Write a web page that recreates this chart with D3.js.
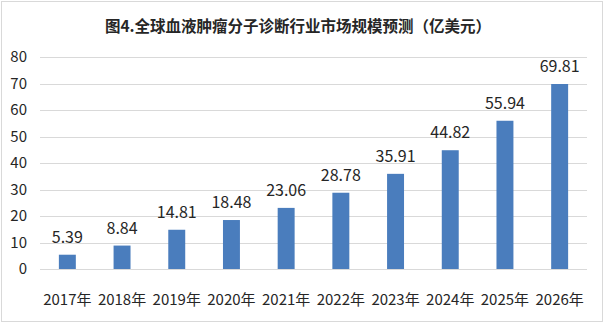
<!DOCTYPE html>
<html>
<head>
<meta charset="utf-8">
<script src="https://cdn.jsdelivr.net/npm/d3@7"></script>
<style>
  html, body { margin: 0; padding: 0; background: #fff; }
  svg { display: block; }
</style>
</head>
<body>
<svg id="chart" width="604" height="325"></svg>
<script>
const title = "图4.全球血液肿瘤分子诊断行业市场规模预测（亿美元）";
const years = ["2017年", "2018年", "2019年", "2020年", "2021年", "2022年", "2023年", "2024年", "2025年", "2026年"];
const values = [5.39, 8.84, 14.81, 18.48, 23.06, 28.78, 35.91, 44.82, 55.94, 69.81];
const yTicks = [0, 10, 20, 30, 40, 50, 60, 70, 80];

const W = 604, H = 325;
const margin = { top: 57, right: 17, bottom: 56, left: 40 };
const font = "'Microsoft YaHei', 'Noto Sans CJK SC', 'Noto Sans', sans-serif";

const svg = d3.select("#chart");

// outer frame
svg.append("rect")
  .attr("x", 1.5).attr("y", 1.5)
  .attr("width", W - 3).attr("height", H - 5)
  .attr("fill", "#fff").attr("stroke", "#d9d9d9").attr("stroke-width", 1);

const x = d3.scaleBand()
  .domain(years)
  .range([margin.left, W - margin.right])
  .paddingInner(0.69).paddingOuter(0.345);

const y = d3.scaleLinear()
  .domain([0, 80])
  .range([H - margin.bottom, margin.top]);

// gridlines
svg.append("g")
  .selectAll("line")
  .data(yTicks)
  .join("line")
  .attr("x1", margin.left).attr("x2", W - margin.right)
  .attr("y1", d => Math.round(y(d)) + 0.5).attr("y2", d => Math.round(y(d)) + 0.5)
  .attr("stroke", "#d9d9d9").attr("stroke-width", 1);

// y-axis labels
const yAxis = d3.axisLeft(y).tickValues(yTicks).tickSize(0).tickPadding(10);
svg.append("g")
  .attr("transform", `translate(${margin.left},0)`)
  .call(yAxis)
  .call(g => g.select(".domain").remove())
  .call(g => g.selectAll("text")
    .attr("font-family", font).attr("font-size", 15).attr("fill", "#262626")
    .attr("text-anchor", "end").attr("x", -13));

// bars
svg.append("g")
  .selectAll("rect")
  .data(values)
  .join("rect")
  .attr("x", (d, i) => x(years[i]))
  .attr("y", d => y(d))
  .attr("width", x.bandwidth())
  .attr("height", d => y(0) - y(d))
  .attr("fill", "#4a7dbd");

// value labels
svg.append("g")
  .selectAll("text")
  .data(values)
  .join("text")
  .attr("x", (d, i) => x(years[i]) + x.bandwidth() / 2)
  .attr("y", d => y(d) - 12)
  .attr("text-anchor", "middle")
  .attr("font-family", font).attr("font-size", 16).attr("fill", "#262626")
  .text(d => d.toFixed(2));

// x-axis labels
const xAxis = d3.axisBottom(x).tickSize(0).tickPadding(25);
svg.append("g")
  .attr("transform", `translate(0,${H - margin.bottom})`)
  .call(xAxis)
  .call(g => g.select(".domain").remove())
  .call(g => g.selectAll("text")
    .attr("font-family", font).attr("font-size", 15).attr("fill", "#262626"));

// title
svg.append("text")
  .attr("x", W / 2 - 4).attr("y", 32)
  .attr("text-anchor", "middle")
  .attr("font-family", font).attr("font-size", 15.5).attr("font-weight", "bold")
  .attr("fill", "#262626")
  .text(title);
</script>
</body>
</html>
